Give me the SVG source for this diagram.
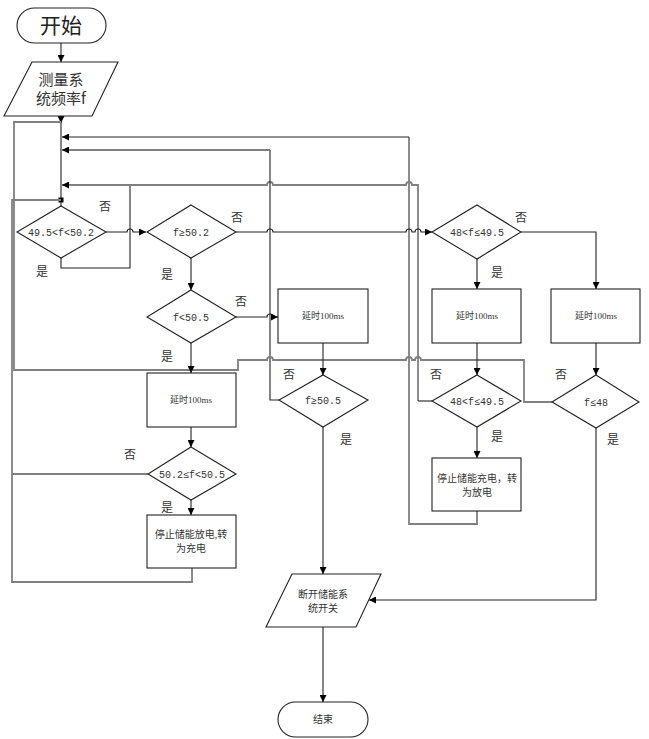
<svg xmlns="http://www.w3.org/2000/svg" width="649" height="739" viewBox="0 0 649 739">
<style>
.s{fill:#fff;stroke:#222;stroke-width:1.1}
.c{fill:none;stroke:#222;stroke-width:1.1}
.g{fill:none;stroke:#808080;stroke-width:1.8}
.t{font-family:"Liberation Mono","Noto Sans CJK SC",monospace;font-size:10px;fill:#333;text-anchor:middle}
.b{font-family:"Liberation Serif","Noto Sans CJK SC",serif;font-size:9px;fill:#333;text-anchor:middle}
.z{font-family:"Liberation Serif","Noto Sans CJK SC",serif;font-size:10px;fill:#333;text-anchor:middle}
.l{font-family:"Noto Sans CJK SC",sans-serif;font-size:12px;fill:#333;text-anchor:middle}
</style>
<defs>
<marker id="ar" viewBox="0 0 10 10" refX="10" refY="5" markerWidth="9" markerHeight="7" markerUnits="userSpaceOnUse" orient="auto"><path d="M0,0 L10,5 L0,10 z" fill="#000"/></marker>
</defs>
<g id="connectors">
<path class="c" d="M61,43 V62" marker-end="url(#ar)"/>
<path class="c" d="M61,116 V123" marker-end="url(#ar)"/>
<path class="c" d="M61,123 V206"/>
<rect x="58.5" y="197.5" width="5" height="5" fill="#000"/>
<!-- loops into main line -->
<path class="c" d="M61,258 V268 H130 V185"/>
<path class="g" d="M418,401 V185 H412 a3,3 0 0 0 -6,0 H273 a3,3 0 0 0 -6,0 H62" marker-end="url(#ar)"/>
<path class="c" d="M279,400 H270 V150"/>
<path class="g" d="M270,150 H62" marker-end="url(#ar)"/>
<path class="c" d="M432,401 H418"/>
<path class="g" d="M477,511 V524 H409 V137"/>
<path class="c" d="M409,137 H62" marker-end="url(#ar)"/>
<path class="g" d="M552,402 H524 V360 H421 a3,3 0 0 0 -6,0 H412 a3,3 0 0 0 -6,0 H273 a3,3 0 0 0 -6,0 H238 V370 H14 V122 H61"/>
<path class="g" d="M148,474 H12 M192,568 V582 H12 V200 H61"/>
<!-- forward -->
<path class="c" d="M106,232 H127 a3,3 0 0 1 6,0 H146" marker-end="url(#ar)"/>
<path class="c" d="M236,232 H267 a3,3 0 0 1 6,0 H406 a3,3 0 0 1 6,0 H415 a3,3 0 0 1 6,0 H432" marker-end="url(#ar)"/>
<path class="c" d="M191,258 V290" marker-end="url(#ar)"/>
<path class="c" d="M236,317 H267 a3,3 0 0 1 6,0 H278" marker-end="url(#ar)"/>
<path class="c" d="M191,343 V373" marker-end="url(#ar)"/>
<path class="c" d="M191,427 V447" marker-end="url(#ar)"/>
<path class="c" d="M191,500 V515" marker-end="url(#ar)"/>
<path class="c" d="M323,343 V375" marker-end="url(#ar)"/>
<path class="c" d="M323,427 V574" marker-end="url(#ar)"/>
<path class="c" d="M477,259 V289" marker-end="url(#ar)"/>
<path class="c" d="M521,232 H596 V289" marker-end="url(#ar)"/>
<path class="c" d="M477,343 V375" marker-end="url(#ar)"/>
<path class="c" d="M477,427 V458" marker-end="url(#ar)"/>
<path class="c" d="M596,343 V375" marker-end="url(#ar)"/>
<path class="c" d="M596,428 V600 H369" marker-end="url(#ar)"/>
<path class="c" d="M323,627 V702" marker-end="url(#ar)"/>
</g>
<g id="start"><rect class="s" x="17" y="8" width="89" height="35" rx="17.5"/><text x="61" y="33" style="font-family:'Noto Sans CJK SC',sans-serif;font-size:21px;fill:#222;text-anchor:middle">开始</text></g>
<g id="measure"><polygon class="s" points="32,62 118,62 92,116 4,116"/><text class="l" style="font-size:15px" x="61" y="85">测量系</text><text class="l" style="font-size:15px" x="61" y="104">统频率f</text></g>
<g id="d1"><polygon class="s" points="61,206 106,232 61,258 17,232"/><text class="t" x="61" y="236">49.5&lt;f&lt;50.2</text></g>
<g id="d2"><polygon class="s" points="191,205 236,232 191,258 147,232"/><text class="t" x="191" y="236">f≥50.2</text></g>
<g id="d3"><polygon class="s" points="191,290 236,317 191,343 147,317"/><text class="t" x="191" y="321">f&lt;50.5</text></g>
<g id="d4"><polygon class="s" points="191,447 236,474 191,500 148,474"/><text class="t" x="192" y="478">50.2≤f&lt;50.5</text></g>
<g id="d5"><polygon class="s" points="323,375 368,400 323,427 279,400"/><text class="t" x="323" y="404">f≥50.5</text></g>
<g id="d6"><polygon class="s" points="477,205 521,232 477,259 432,232"/><text class="t" x="477" y="236">48&lt;f≤49.5</text></g>
<g id="d7"><polygon class="s" points="477,375 521,401 477,427 432,401"/><text class="t" x="477" y="405">48&lt;f≤49.5</text></g>
<g id="d8"><polygon class="s" points="596,375 639,402 596,428 552,402"/><text class="t" x="596" y="406">f≤48</text></g>
<g id="box1"><rect class="s" x="278" y="289" width="90" height="54"/><text class="b" x="323" y="319">延时100ms</text></g>
<g id="box2"><rect class="s" x="432" y="289" width="89" height="54"/><text class="b" x="477" y="319">延时100ms</text></g>
<g id="box3"><rect class="s" x="551" y="289" width="89" height="54"/><text class="b" x="596" y="319">延时100ms</text></g>
<g id="box4"><rect class="s" x="147" y="373" width="89" height="54"/><text class="b" x="191" y="403">延时100ms</text></g>
<g id="box5"><rect class="s" x="147" y="515" width="89" height="53"/><text class="z" x="191" y="538">停止储能放电,转</text><text class="z" x="191" y="552">为充电</text></g>
<g id="box6"><rect class="s" x="432" y="458" width="89" height="53"/><text class="z" x="477" y="482">停止储能充电，转</text><text class="z" x="477" y="496">为放电</text></g>
<g id="cut"><polygon class="s" points="292,574 381,574 356,627 266,627"/><text class="z" x="323" y="598">断开储能系</text><text class="z" x="323" y="612">统开关</text></g>
<g id="end"><rect class="s" x="278" y="702" width="90" height="35" rx="17.5"/><text class="z" x="323" y="723">结束</text></g>
<g id="labels">
<text class="l" x="105" y="211">否</text><text class="l" x="42" y="276">是</text>
<text class="l" x="237" y="222">否</text><text class="l" x="167" y="279">是</text>
<text class="l" x="241" y="306">否</text><text class="l" x="167" y="361">是</text>
<text class="l" x="289" y="379">否</text><text class="l" x="346" y="444">是</text>
<text class="l" x="521" y="222">否</text><text class="l" x="497" y="277">是</text>
<text class="l" x="436" y="379">否</text><text class="l" x="497" y="441">是</text>
<text class="l" x="561" y="379">否</text><text class="l" x="613" y="444">是</text>
<text class="l" x="130" y="459">否</text><text class="l" x="167" y="512">是</text>
</g>
</svg>
